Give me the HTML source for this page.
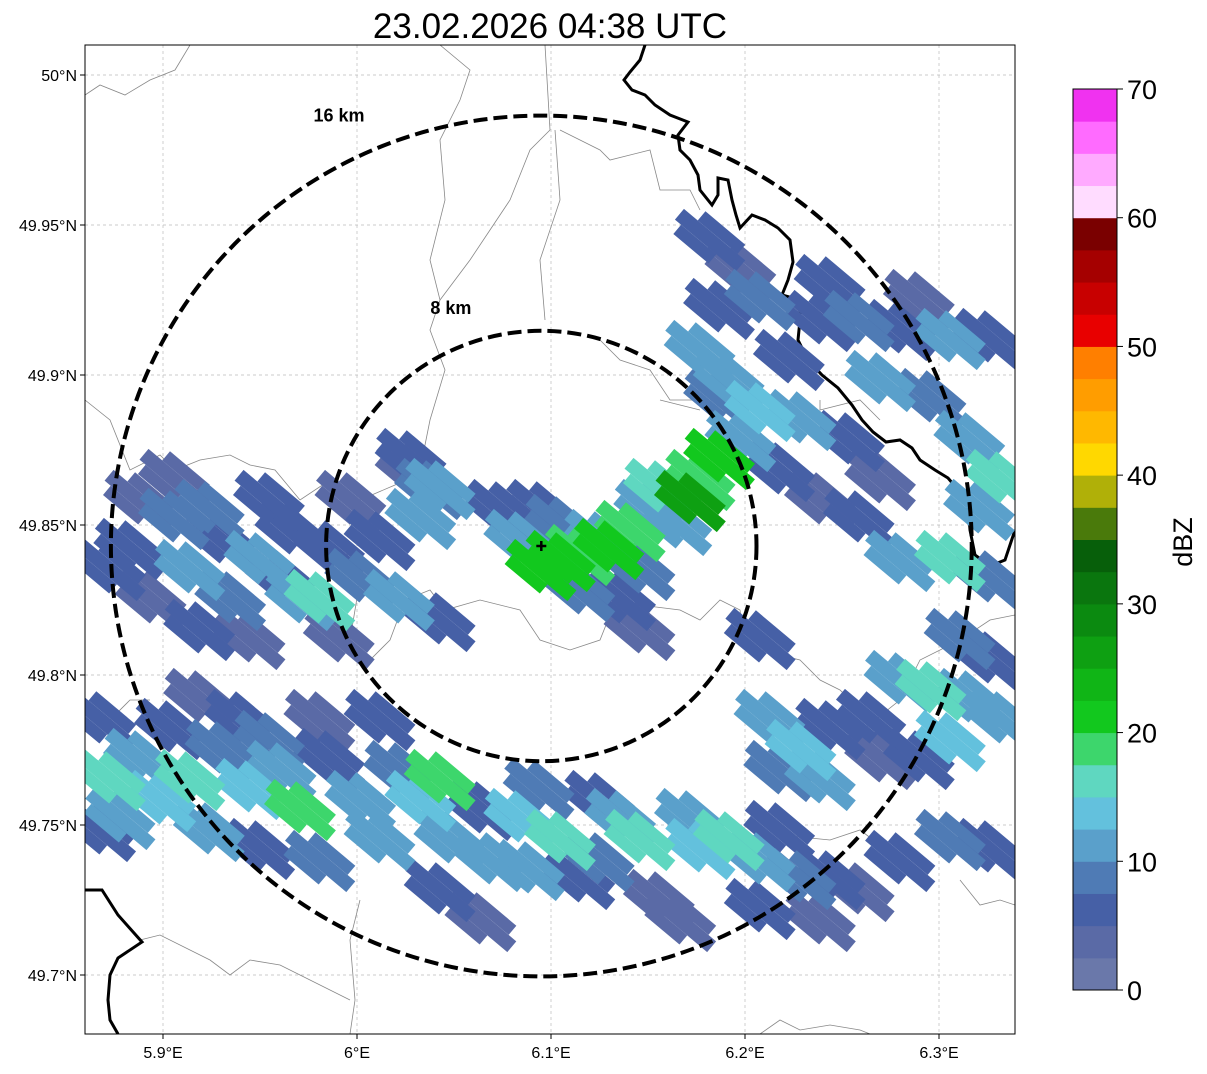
<!DOCTYPE html>
<html><head><meta charset="utf-8"><style>
html,body{margin:0;padding:0;background:#fff;}
svg text{font-family:"Liberation Sans",sans-serif;}
</style></head><body>
<svg id="chart" width="1207" height="1069" viewBox="0 0 1207 1069" xmlns="http://www.w3.org/2000/svg">
<text x="550" y="38" font-size="35" text-anchor="middle">23.02.2026 04:38 UTC</text>
<defs><clipPath id="plotclip"><rect x="85" y="45" width="930" height="989"/></clipPath></defs>
<g id="grid"></g>
<g id="geo" clip-path="url(#plotclip)" fill="none">
<path stroke="#888" stroke-width="0.8" d="M85,95 L100,85 L125,95 L150,80 L175,70 L190,45 M85,400 L110,420 L130,470 L160,455 L175,470 L200,460 L230,455 L250,465 L275,470 L300,500 L330,480 L360,500 L395,485 L420,470 M440,45 L470,70 L460,100 L440,140 L445,200 L430,260 L440,300 L430,330 L445,370 L430,420 L420,470 M545,45 L550,130 L530,150 L510,200 L490,230 L470,260 L440,300 M555,130 L560,200 L540,260 L545,320 M560,130 L600,150 L610,160 L650,150 L660,190 L690,190 L700,210 M600,340 L620,360 L650,370 L670,400 L700,400 L740,420 M660,400 L700,410 M820,400 L820,410 L860,400 L880,420 M340,540 L360,580 L350,640 L370,660 L390,640 L405,600 L430,590 L445,610 L480,600 L520,610 L540,640 L570,650 L600,640 L610,615 L640,605 L680,610 L700,620 L720,600 L740,610 L745,650 M760,650 L800,660 L820,680 L840,690 L850,700 L830,720 L850,740 L900,700 L920,660 L960,640 L990,620 L1015,615 M85,710 L110,720 L130,700 L150,700 M360,900 L350,940 L355,1000 L350,1034 M140,940 L160,935 L190,950 L210,960 L230,975 L250,960 L280,965 L300,975 L330,990 L350,1000 M760,1034 L780,1020 L800,1030 L830,1025 L860,1030 L870,1034 M780,835 L830,840 L860,830 L880,845 M960,880 L980,905 L1000,900 L1015,905"/>
<path stroke="#000" stroke-width="3" d="M645,45 L640,60 L630,72 L624,80 L632,90 L645,95 L655,105 L670,115 L688,122 L678,135 L680,150 L690,160 L698,175 L700,190 L712,205 L718,195 L718,178 L728,180 L732,200 L736,215 L740,228 L752,215 L765,220 L778,228 L790,240 L793,262 L788,280 L782,295 L800,300 L800,320 L798,340 L808,360 L822,375 L838,388 L852,405 L862,420 L873,432 L886,442 L900,440 L912,448 L920,460 L935,470 L948,478 L960,492 L968,505 L970,530 L975,555 L990,566 L1005,560 L1015,530"/>
<path stroke="#000" stroke-width="3" d="M85,890 L102,890 L118,915 L142,942 L118,958 L110,975 L108,1000 L110,1020 L118,1034"/>
</g>
<g id="cells" clip-path="url(#plotclip)"></g>
<g id="rings" clip-path="url(#plotclip)"></g>
<rect x="85" y="45" width="930" height="989" fill="none" stroke="#000" stroke-width="1"/>
<g id="axes"></g>
<g id="cbar"></g>
<text x="1192" y="542" font-size="27" text-anchor="middle" transform="rotate(-90 1192 542)">dBZ</text>
</svg>
<script>
// ---- data ----
const lonTicks = [5.9, 6.0, 6.1, 6.2, 6.3];
const lonLabels = ["5.9°E", "6°E", "6.1°E", "6.2°E", "6.3°E"];
const latTicks = [50.0, 49.95, 49.9, 49.85, 49.8, 49.75, 49.7];
const latLabels = ["50°N", "49.95°N", "49.9°N", "49.85°N", "49.8°N", "49.75°N", "49.7°N"];
const radarSite = [6.095, 49.843];
const ringRadiiKm = [8, 16];
const ringLabels = ["8 km", "16 km"];
const cbarTicks = [0, 10, 20, 30, 40, 50, 60, 70];
const cbarColors = ["#6a78aa","#5a6aa6","#4660a6","#4f7bb5","#5aa0cb","#63c1dd","#5fd7c0","#3dd66c","#12c81e","#10b516","#0ea012","#0b8a10","#0a760e","#075f0a","#4a7a0b","#b0b008","#ffd800","#ffb800","#ff9d00","#ff7f00","#e80000","#c80000","#a50000","#7a0000","#ffdcff","#ffaaff","#ff6bff","#f032f0"];
// [lon, lat, dBZ]
const westBand = [[5.883,49.842,5],[5.894,49.825,3],[5.906,49.852,8],[5.914,49.835,10],[5.906,49.865,3],[5.930,49.845,5],[5.935,49.825,8],[5.945,49.812,3],[5.950,49.838,12],[5.966,49.848,5],[5.971,49.825,10],[5.981,49.825,16],[5.986,49.842,5],[5.997,49.858,3],[6.002,49.832,8],[6.012,49.845,5],[6.022,49.825,10],[6.033,49.852,12],[6.043,49.818,5],[6.028,49.868,3],[6.038,49.862,8],[5.955,49.858,5],[5.888,49.858,3],[5.919,49.815,5],[5.991,49.812,3],[5.873,49.835,5],[5.924,49.855,8],[5.961,49.832,7]];
const centralCell = [[6.074,49.855,5],[6.084,49.845,12],[6.095,49.835,20],[6.105,49.838,22],[6.115,49.840,18],[6.125,49.845,10],[6.130,49.842,22],[6.141,49.848,18],[6.151,49.855,12],[6.146,49.835,8],[6.156,49.862,17],[6.172,49.858,25],[6.177,49.865,18],[6.187,49.872,22],[6.136,49.825,5],[6.146,49.815,3],[6.115,49.828,8],[6.095,49.855,5],[6.028,49.872,5],[6.043,49.862,10],[6.165,49.850,12],[6.105,49.850,8]];
const northEastBand = [[6.182,49.945,5],[6.198,49.935,3],[6.208,49.925,8],[6.187,49.922,5],[6.177,49.908,10],[6.192,49.898,12],[6.208,49.888,14],[6.223,49.905,5],[6.239,49.918,5],[6.259,49.918,8],[6.280,49.915,5],[6.306,49.912,10],[6.326,49.912,5],[6.270,49.898,12],[6.296,49.892,8],[6.316,49.878,12],[6.332,49.865,15],[6.321,49.855,10],[6.254,49.878,5],[6.270,49.865,3],[6.198,49.878,10],[6.218,49.868,5],[6.239,49.858,3],[6.259,49.852,5],[6.280,49.838,12],[6.306,49.838,15],[6.326,49.832,8],[6.187,49.892,8],[6.229,49.885,12],[6.244,49.930,5],[6.290,49.925,3]];
const southEastBand = [[6.213,49.785,10],[6.229,49.775,14],[6.218,49.768,8],[6.244,49.782,5],[6.265,49.785,5],[6.280,49.798,10],[6.296,49.795,17],[6.316,49.792,12],[6.332,49.785,10],[6.306,49.778,14],[6.290,49.772,5],[6.270,49.772,3],[6.311,49.812,8],[6.326,49.805,5],[6.208,49.812,5],[6.239,49.765,10]];
const southBand = [[5.868,49.785,5],[5.873,49.765,16],[5.868,49.748,5],[5.888,49.772,12],[5.899,49.758,14],[5.904,49.782,5],[5.914,49.765,16],[5.924,49.748,10],[5.930,49.775,8],[5.945,49.762,14],[5.950,49.742,5],[5.961,49.768,10],[5.971,49.755,18],[5.981,49.738,8],[5.986,49.772,5],[6.002,49.758,12],[6.012,49.745,10],[6.022,49.768,8],[6.033,49.758,14],[6.043,49.765,18],[6.048,49.745,10],[6.064,49.755,5],[6.069,49.738,12],[6.084,49.752,14],[6.089,49.735,10],[6.105,49.745,16],[6.115,49.732,5],[6.125,49.738,8],[6.136,49.752,12],[6.146,49.745,17],[6.156,49.725,3],[6.172,49.752,10],[6.177,49.742,14],[6.192,49.745,15],[6.208,49.738,10],[6.218,49.748,5],[6.229,49.732,8],[6.244,49.732,5],[6.259,49.728,3],[6.208,49.722,5],[6.280,49.738,5],[6.306,49.745,8],[6.326,49.742,5],[6.043,49.728,5],[6.064,49.718,3],[5.919,49.792,3],[5.940,49.785,5],[5.981,49.785,3],[6.012,49.785,5],[6.125,49.758,5],[6.167,49.718,3],[6.239,49.718,3],[5.878,49.752,10],[5.955,49.778,8],[6.094,49.762,8]];
const rainSets = [westBand, centralCell, northEastBand, southEastBand, southBand];

// ---- axes ----
const X0 = 163, PXLON = 1940, Y0 = 525, PXLAT = 3000;
function xScale(lon){ return X0 + (lon - 5.9) * PXLON; }
function yScale(lat){ return Y0 - (lat - 49.85) * PXLAT; }
const kmPx = 26.9;
function cbarY(v){ return 990 - v / 70 * 901; }
function colorFor(v){ return cbarColors[Math.max(0, Math.min(27, Math.floor(v / 2.5)))]; }

const NS = "http://www.w3.org/2000/svg";
function mk(tag, attrs, parent){ const e = document.createElementNS(NS, tag); for (const k in attrs) e.setAttribute(k, attrs[k]); parent.appendChild(e); return e; }

const grid = document.getElementById("grid"), axes = document.getElementById("axes");
lonTicks.forEach((t, i) => {
  const x = xScale(t);
  const gl = mk("line", {x1:x, x2:x, y1:45, y2:1034, stroke:"#bbb", "stroke-width":0.7, "stroke-dasharray":"3,3"}, grid);
  
  
  const tk = mk("line", {x1:x, x2:x, y1:1034, y2:1039, stroke:"#000"}, axes);
  
  
  const tx = mk("text", {x:x, y:1058, "font-size":16, "text-anchor":"middle"}, axes);
  tx.textContent = lonLabels[i];
  
  
});
latTicks.forEach((t, i) => {
  const y = yScale(t);
  const gl = mk("line", {x1:85, x2:1015, y1:y, y2:y, stroke:"#bbb", "stroke-width":0.7, "stroke-dasharray":"3,3"}, grid);
  
  
  const tk = mk("line", {x1:80, x2:85, y1:y, y2:y, stroke:"#000"}, axes);
  
  
  const tx = mk("text", {x:77, y:y + 6, "font-size":16, "text-anchor":"end"}, axes);
  tx.textContent = latLabels[i];
  
  
});

// ---- cells ----
const cellsG = document.getElementById("cells");
const allCells = [];
rainSets.forEach(s => s.forEach(c => allCells.push(c)));
allCells.sort((a, b) => a[2] - b[2]);
allCells.forEach(c => {
  const x = xScale(c[0]), y = yScale(c[1]);
  const col = colorFor(c[2]);
  const g = mk("g", {transform:`translate(${x},${y}) rotate(40)`}, cellsG);
  
  
  mk("rect", {x:-40, y:-7, width:80, height:14, fill:col}, g);
  mk("rect", {x:-22, y:-19, width:52, height:12, fill:col}, g);
  mk("rect", {x:-32, y:7, width:46, height:12, fill:col}, g);
});

// ---- rings ----
const rings = document.getElementById("rings");
const cx = xScale(radarSite[0]), cy = yScale(radarSite[1]);
ringRadiiKm.forEach((r, i) => {
  const c = mk("circle", {cx:cx, cy:cy, r:r * kmPx, fill:"none", stroke:"#000", "stroke-width":4, "stroke-dasharray":"14,6"}, rings);
  
  
  const t = mk("text", {x:cx - r * kmPx * (i === 0 ? 0.42 : 0.47), y:cy - r * kmPx + (i === 0 ? -17 : 6), "font-size":18, "font-weight":"bold", "text-anchor":"middle"}, rings);
  t.textContent = ringLabels[i];
  
  
});
const site = mk("path", {d:`M${cx-5},${cy} H${cx+5} M${cx},${cy-5} V${cy+5}`, stroke:"#000", "stroke-width":2.5}, rings);



// ---- colorbar ----
const cbar = document.getElementById("cbar");
cbarColors.forEach((col, i) => {
  const r = mk("rect", {x:1073, y:cbarY((i + 1) * 2.5), width:44, height:cbarY(0) - cbarY(2.5) + 0.5, fill:col}, cbar);
  
  
});
mk("rect", {x:1073, y:89, width:44, height:901, fill:"none", stroke:"#000", "stroke-width":1}, cbar);
cbarTicks.forEach(v => {
  const y = cbarY(v);
  mk("line", {x1:1117, x2:1123, y1:y, y2:y, stroke:"#000"}, cbar);
  const t = mk("text", {x:1127, y:y + 10, "font-size":27}, cbar);
  t.textContent = v;
  
  
});
</script>
</body></html>
